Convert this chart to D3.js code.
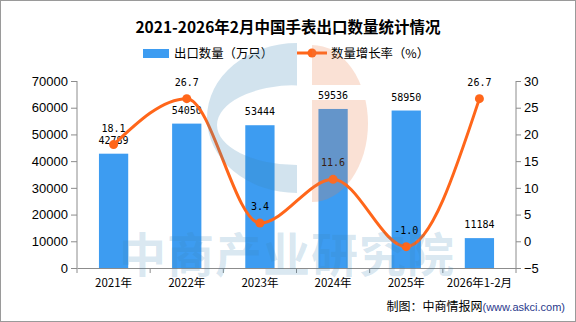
<!DOCTYPE html>
<head>
<meta charset="utf-8">
<title>手表出口数量</title>
<style>
body { margin: 0; background: #fff; }
text { font-family: "Noto Sans CJK SC", "Liberation Sans", sans-serif; }
.axis path, .axis line { stroke: #8c8c8c; }
.axis text { font-family: "Liberation Sans", sans-serif; font-size: 13px; fill: #000; }
.xaxis text { font-family: "Noto Sans CJK SC", sans-serif; font-size: 11.5px; }
.val { font-family: "DejaVu Sans Mono", monospace; font-size: 10px; fill: #000; text-anchor: middle; }
</style>
</head>
<body>
<script src="https://cdn.jsdelivr.net/npm/d3@7"></script>
<script>
var years = ["2021年", "2022年", "2023年", "2024年", "2025年", "2026年1-2月"];
var exportsQty = [42789, 54050, 53444, 59536, 58950, 11184];   // 万只
var growth = [18.1, 26.7, 3.4, 11.6, -1.0, 26.7];             // %
var leftTicks = [0, 10000, 20000, 30000, 40000, 50000, 60000, 70000];
var rightTicks = [-5, 0, 5, 10, 15, 20, 25, 30];

var width = 576, height = 322;
// plot area edges (window.top is reserved, so prefixed names)
var plotLeft = 77, plotRight = 516, plotTop = 81, plotBottom = 268;

var barColor = "#3d9cf1",
    lineColor = "#ff661a";

var svg = d3.select("body").append("svg")
    .attr("width", width)
    .attr("height", height);

// frame
svg.append("rect")
    .attr("x", 0.5).attr("y", 0.5)
    .attr("width", width - 1).attr("height", height - 1)
    .attr("fill", "#fff")
    .attr("stroke", "#9a9a9a");

var x = d3.scaleBand()
    .domain(years)
    .range([plotLeft, plotRight])
    .paddingInner(0.6)
    .paddingOuter(0.3);

var yLeft = d3.scaleLinear().domain([0, 70000]).range([plotBottom, plotTop]);
var yRight = d3.scaleLinear().domain([-5, 30]).range([plotBottom, plotTop]);

// title
svg.append("text")
    .attr("x", 288)
    .attr("y", 33)
    .attr("text-anchor", "middle")
    .style("font-size", "15.5px")
    .style("font-weight", "bold")
    .text("2021-2026年2月中国手表出口数量统计情况");

// legend
var legend = svg.append("g");
legend.append("rect")
    .attr("x", 143).attr("y", 49)
    .attr("width", 26).attr("height", 9)
    .attr("fill", barColor);
legend.append("text")
    .attr("x", 174).attr("y", 57.5)
    .style("font-size", "12.4px")
    .text("出口数量（万只）");
legend.append("line")
    .attr("x1", 297).attr("x2", 327)
    .attr("y1", 53).attr("y2", 53)
    .attr("stroke", lineColor)
    .attr("stroke-width", 3);
legend.append("circle")
    .attr("cx", 312).attr("cy", 53).attr("r", 4.5)
    .attr("fill", lineColor);
legend.append("text")
    .attr("x", 331).attr("y", 57.5)
    .style("font-size", "12.4px")
    .text("数量增长率（%）");

// axes
svg.append("g")
    .attr("class", "axis")
    .attr("transform", "translate(" + plotLeft + ",0)")
    .call(d3.axisLeft(yLeft).tickValues(leftTicks).tickFormat(d3.format("d"))
        .tickSizeOuter(0).tickSize(6).tickPadding(3))
    .call(function(g) { g.select(".domain").attr("d", "M0," + plotTop + "V" + plotBottom); });

svg.append("g")
    .attr("class", "axis")
    .attr("transform", "translate(" + plotRight + ",0)")
    .call(d3.axisRight(yRight).tickValues(rightTicks).tickFormat(d3.format("d"))
        .tickSizeOuter(0).tickSize(5).tickPadding(3))
    .call(function(g) { g.select(".domain").attr("d", "M0," + plotTop + "V" + plotBottom); });

var xAxis = svg.append("g")
    .attr("class", "axis xaxis")
    .attr("transform", "translate(0," + plotBottom + ")")
    .call(d3.axisBottom(x).tickSize(0).tickPadding(11).tickSizeOuter(0));

// ticks sit on the band boundaries
var step = x.step();
xAxis.selectAll(".sep")
    .data(d3.range(years.length + 1))
    .enter().append("line")
    .attr("x1", function(i) { return plotLeft + i * step; })
    .attr("x2", function(i) { return plotLeft + i * step; })
    .attr("y1", 0).attr("y2", 5)
    .attr("stroke", "#8c8c8c");

// bars
svg.append("g")
    .selectAll("rect")
    .data(exportsQty)
    .enter().append("rect")
    .attr("x", function(d, i) { return x(years[i]); })
    .attr("y", function(d) { return yLeft(d); })
    .attr("width", x.bandwidth())
    .attr("height", function(d) { return plotBottom - yLeft(d); })
    .attr("fill", barColor);

svg.append("g")
    .selectAll("text")
    .data(exportsQty)
    .enter().append("text")
    .attr("class", "val")
    .attr("x", function(d, i) { return x(years[i]) + x.bandwidth() / 2; })
    .attr("y", function(d) { return yLeft(d) - 10; })
    .text(function(d) { return d; });

// growth line
var cx = function(i) { return x(years[i]) + x.bandwidth() / 2; };

var line = d3.line()
    .x(function(d, i) { return cx(i); })
    .y(function(d) { return yRight(d); })
    .curve(d3.curveMonotoneX);

svg.append("path")
    .datum(growth)
    .attr("d", line)
    .attr("fill", "none")
    .attr("stroke", lineColor)
    .attr("stroke-width", 3);

svg.append("g")
    .selectAll("circle")
    .data(growth)
    .enter().append("circle")
    .attr("cx", function(d, i) { return cx(i); })
    .attr("cy", function(d) { return yRight(d); })
    .attr("r", 4.5)
    .attr("fill", lineColor);

svg.append("g")
    .selectAll("text")
    .data(growth)
    .enter().append("text")
    .attr("class", "val")
    .attr("x", function(d, i) { return cx(i); })
    .attr("y", function(d) { return yRight(d) - 13; })
    .text(function(d) { return d.toFixed(1); });

// watermark over everything
var wm = svg.append("g").style("pointer-events", "none");

wm.append("path")
    .attr("d", "M297,43 A90,75 0 0,0 297,193 Z M297,85 A80,40 0 0,0 297,165 Z")
    .attr("fill-rule", "evenodd")
    .attr("fill", "rgb(59,133,181)")
    .attr("fill-opacity", 0.23);

var clip = svg.append("defs").append("clipPath").attr("id", "wmclip");
clip.append("rect").attr("x", 300).attr("y", 40).attr("width", 80).attr("height", 45);
clip.append("rect").attr("x", 300).attr("y", 100).attr("width", 80).attr("height", 110);

wm.append("path")
    .attr("d", "M312,45 A56,78.5 0 0,1 312,202 Z")
    .attr("clip-path", "url(#wmclip)")
    .attr("fill", "rgb(233,125,72)")
    .attr("fill-opacity", 0.23);

wm.append("text")
    .attr("x", 287)
    .attr("y", 272)
    .attr("text-anchor", "middle")
    .style("font-size", "47px")
    .style("font-weight", "bold")
    .style("letter-spacing", "1px")
    .attr("fill", "rgb(59,133,181)")
    .attr("fill-opacity", 0.2)
    .text("中商产业研究院");

// source
var src = svg.append("text")
    .attr("x", 565)
    .attr("y", 311)
    .attr("text-anchor", "end")
    .style("font-size", "12px");
src.append("tspan").text("制图：中商情报网");
src.append("tspan")
    .style("font-family", "Liberation Sans, sans-serif")
    .style("font-size", "11px")
    .attr("fill", "#2a3a8c")
    .text("(www.askci.com)");
</script>
</body>
